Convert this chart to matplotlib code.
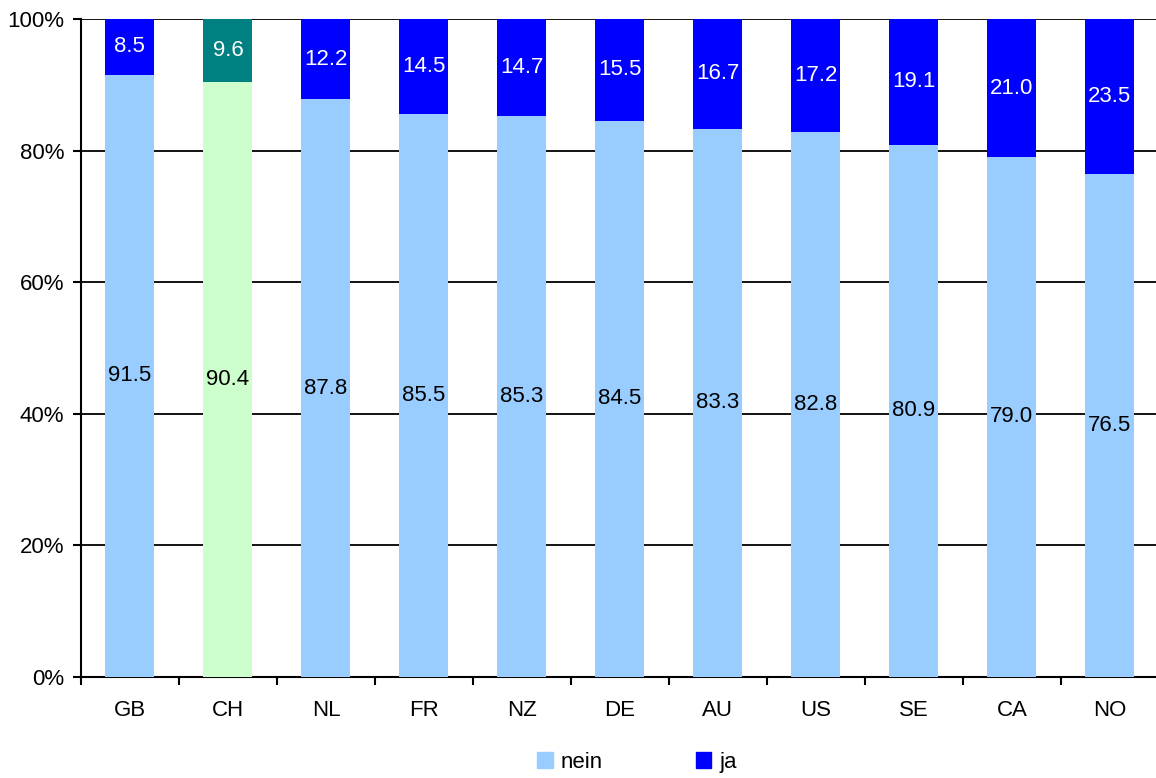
import matplotlib
matplotlib.use('Agg')
import matplotlib.pyplot as plt
from matplotlib.patches import Patch
import numpy as np

plt.rcParams['font.family'] = ['Liberation Sans', 'DejaVu Sans']

countries = ['GB', 'CH', 'NL', 'FR', 'NZ', 'DE', 'AU', 'US', 'SE', 'CA', 'NO']
nein = [91.5, 90.4, 87.8, 85.5, 85.3, 84.5, 83.3, 82.8, 80.9, 79.0, 76.5]
ja = [8.5, 9.6, 12.2, 14.5, 14.7, 15.5, 16.7, 17.2, 19.1, 21.0, 23.5]

nein_col = ['#99ccff'] * len(countries)
ja_col = ['#0000ff'] * len(countries)
# CH highlighted
nein_col[1] = '#ccffcc'
ja_col[1] = '#008080'

fig = plt.figure(figsize=(11.56, 7.78), dpi=100)
ax = fig.add_axes([0.070, 0.130, 0.9325, 0.8456])

x = np.arange(len(countries))
ax.bar(x, nein, width=0.5, color=nein_col, zorder=3)
ax.bar(x, ja, width=0.5, bottom=nein, color=ja_col, zorder=3)

for i in range(len(countries)):
    ax.text(x[i], nein[i] / 2, f'{nein[i]:.1f}', ha='center', va='center',
            fontsize=16, color='black', zorder=4)
    ax.text(x[i], nein[i] + ja[i] / 2, f'{ja[i]:.1f}', ha='center', va='center',
            fontsize=16, color='white', zorder=4)

ax.set_xlim(-0.5, len(countries) - 0.5)
ax.set_ylim(0, 100)
ax.set_yticks(range(0, 101, 20))
ax.set_yticklabels([f'{v}%' for v in range(0, 101, 20)], fontsize=16)
ax.yaxis.grid(True, color='black', linewidth=1.3, zorder=1)

ax.set_xticks(x)
ax.set_xticklabels(countries, fontsize=16)
ax.tick_params(axis='x', which='major', length=0, pad=17)
ax.set_xticks(np.arange(-0.5, len(countries), 1), minor=True)
ax.tick_params(axis='x', which='minor', length=6, width=1.5, direction='out')
ax.tick_params(axis='y', length=6, width=1.5, direction='out', pad=6)

ax.spines['top'].set_visible(False)
ax.spines['right'].set_visible(False)
ax.spines['left'].set_linewidth(1.5)
ax.spines['bottom'].set_linewidth(1.5)

handles = [Patch(color='#99ccff', label='nein'), Patch(color='#0000ff', label='ja')]
fig.legend(handles=handles, loc='center', bbox_to_anchor=(0.551, 0.02), ncol=2,
           frameon=False, fontsize=16, handlelength=0.7, handleheight=0.7,
           handletextpad=0.35, columnspacing=4.2)

fig.savefig('out.png', dpi=100)
